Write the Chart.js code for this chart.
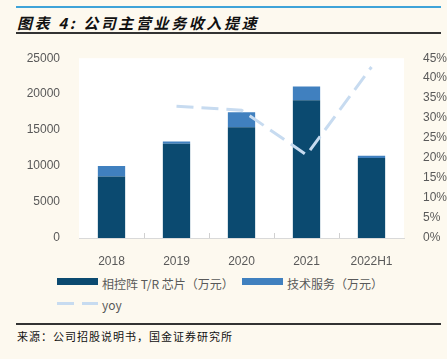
<!DOCTYPE html>
<html>
<head>
<meta charset="utf-8">
<script src="https://cdn.jsdelivr.net/npm/chart.js@4.4.1/dist/chart.umd.min.js"></script>
<style>
  body { margin: 0; width: 447px; height: 359px; overflow: hidden; position: relative; background: #fdf9ef; font-family: "Liberation Sans", Arial, sans-serif; }
  .rule-top { position: absolute; left: 16px; width: 425px; top: 6px; height: 2px; background: #3fa3d8; }
  .title { position: absolute; left: 17px; top: 12px; font: italic bold 15px "Noto Sans CJK SC", sans-serif; color: #111; letter-spacing: 2.6px; }
  .rule-mid { position: absolute; left: 16px; width: 425px; top: 32px; height: 2px; background: #333; }
  .rule-bot { position: absolute; left: 16px; width: 425px; top: 323px; height: 2px; background: #333; }
  .source { position: absolute; left: 17px; top: 328px; font: 11px "Noto Sans CJK SC", sans-serif; color: #111; letter-spacing: 1px; }
  #wrap { position: absolute; left: 0; top: 40px; width: 447px; height: 225px; }
  .legend { position: absolute; font: 12px "Noto Sans CJK SC", sans-serif; color: #595959; }
  .legend span.sw { position: absolute; left: 0; width: 41px; height: 7px; }
  .legend span.txt { position: absolute; left: 45px; white-space: nowrap; }
</style>
</head>
<body>
<div class="rule-top"></div>
<div class="title">图表 4:  公司主营业务收入提速</div>
<div class="rule-mid"></div>
<div id="wrap"><canvas id="revenue-chart" width="447" height="225"></canvas></div>
<div id="legend"></div>
<div class="rule-bot"></div>
<div class="source">来源：公司招股说明书，国金证券研究所</div>
<script>
const categories = ['2018', '2019', '2020', '2021', '2022H1'];
const chipRevenue = [8550, 13100, 15400, 19150, 11120];
const serviceRevenue = [1450, 320, 2080, 1930, 320];
const yoyGrowth = [null, 33.0, 32.0, 20.8, 42.8];
const seriesNames = ['相控阵 T/R 芯片（万元）', '技术服务（万元）', 'yoy'];

const dark_blue = '#0b4a70';
const mid_blue = '#4080bf';
const pale_blue = '#c7dbf0';
const tick_grey = '#595959';

// legend drawn as plain html under the chart
(function buildLegend() {
  const legend = document.getElementById('legend');
  const items = [
    { x: 57, y: 275, color: dark_blue, dash: false },
    { x: 242, y: 275, color: mid_blue, dash: false },
    { x: 57, y: 296, color: pale_blue, dash: true }
  ];
  let html = '';
  items.forEach(function (it, i) {
    let sw = it.dash
      ? '<span class="sw" style="top:6px;height:3px;background:repeating-linear-gradient(90deg,' + it.color + ' 0 17px,transparent 17px 25px)"></span>'
      : '<span class="sw" style="top:3px;background:' + it.color + '"></span>';
    html += '<div class="legend" style="left:' + it.x + 'px;top:' + it.y + 'px">' + sw +
      '<span class="txt">' + seriesNames[i] + '</span></div>';
  });
  legend.innerHTML = html;
})();

const plotBackground = {
  id: 'plotBackground',
  beforeDraw(chart) {
    const { ctx, chartArea } = chart;
    ctx.save();
    ctx.fillStyle = '#ffffff';
    ctx.fillRect(chartArea.left, chartArea.top, chartArea.right - chartArea.left, chartArea.bottom - chartArea.top);
    ctx.restore();
  },
  afterDraw(chart) {
    // small inward ticks between categories
    const { ctx, chartArea } = chart;
    const x = chart.scales.x;
    ctx.save();
    ctx.strokeStyle = '#d0d0d0';
    ctx.lineWidth = 1;
    for (let i = 0; i < categories.length - 1; i++) {
      const px = Math.round((x.getPixelForTick(i) + x.getPixelForTick(i + 1)) / 2) + 0.5;
      ctx.beginPath();
      ctx.moveTo(px, chartArea.bottom);
      ctx.lineTo(px, chartArea.bottom - 5);
      ctx.stroke();
    }
    ctx.restore();
  }
};

new Chart(document.getElementById('revenue-chart'), {
  type: 'bar',
  data: {
    labels: categories,
    datasets: [
      {
        type: 'line',
        label: seriesNames[2],
        data: yoyGrowth,
        yAxisID: 'y1',
        borderColor: pale_blue,
        borderWidth: 3,
        borderDash: [17, 8],
        pointRadius: 0,
        tension: 0,
        order: 0
      },
      {
        label: seriesNames[0],
        data: chipRevenue,
        backgroundColor: dark_blue,
        yAxisID: 'y',
        order: 1
      },
      {
        label: seriesNames[1],
        data: serviceRevenue,
        backgroundColor: mid_blue,
        yAxisID: 'y',
        order: 1
      }
    ]
  },
  options: {
    responsive: false,
    animation: false,
    layout: { padding: { top: 14, left: 0, right: 0, bottom: 0 } },
    plugins: { legend: { display: false }, tooltip: { enabled: false } },
    datasets: { bar: { barPercentage: 0.42, categoryPercentage: 1 } },
    scales: {
      x: {
        stacked: true,
        grid: { display: false },
        border: { display: true, color: '#d9d9d9' },
        ticks: { color: tick_grey, font: { size: 12, family: 'Liberation Sans' }, padding: 8, maxRotation: 0 },
        afterFit(scale) { scale.height = 27; }
      },
      y: {
        stacked: true,
        min: 0,
        max: 25000,
        grid: { display: false },
        border: { display: false },
        ticks: { stepSize: 5000, color: tick_grey, font: { size: 12, family: 'Liberation Sans' }, padding: 11,
          callback: function (v) { return String(v); } },
        afterFit(scale) { scale.width = 79; }
      },
      y1: {
        position: 'right',
        min: 0,
        max: 45,
        grid: { display: false },
        border: { display: false },
        ticks: { stepSize: 5, color: tick_grey, font: { size: 12, family: 'Liberation Sans' }, padding: 11,
          callback: function (v) { return v + '%'; } },
        afterFit(scale) { scale.width = 43; }
      }
    }
  },
  plugins: [plotBackground]
});
</script>
</body>
</html>
